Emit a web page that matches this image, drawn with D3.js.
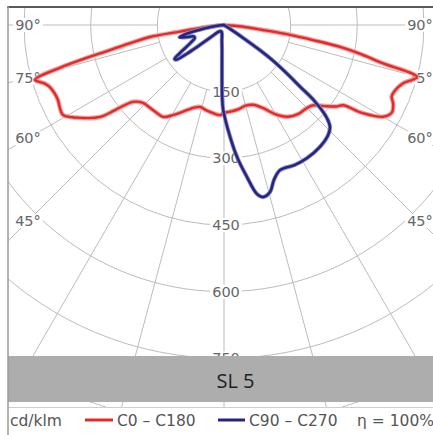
<!DOCTYPE html>
<html><head><meta charset="utf-8">
<script src="https://cdn.jsdelivr.net/npm/d3@7"></script>
<style>html,body{margin:0;padding:0;background:#fff}svg{display:block}</style>
</head><body><svg id="c" width="433" height="435"></svg>
<script>
// ---- data ----
const ringValues = [150, 300, 450, 600, 750, 900, 1050];
const ringLabels = ["150", "300", "450", "600", "750"];
const radialAngles = [-90, -75, -60, -45, -30, -15, 0, 15, 30, 45, 60, 75, 90];
const angleLabelValues = [90, 75, 60, 45];
const angleLabelTexts = ["90°", "75°", "60°", "45°"];

// C0 - C180 plane (red): gamma in degrees, intensity in cd/klm
const c0Angles   = [0, 5, 10, 15, 20, 25, 30, 35, 40, 45, 48, 51, 54, 56, 57.5, 60, 62.5, 65, 67, 69, 72, 74.9, 76.5, 78, 79.3, 80.4, 81.5, 82.7, 85, 90];
const c0Values   = [198, 195, 192, 188, 191, 206, 232, 252, 261, 264, 270, 290, 312, 323, 368, 413, 426, 420, 410, 412, 424, 450, 365, 315, 266, 203, 150, 88, 40, 0];
const c180Angles = [0, 2.5, 7, 12, 16, 20, 23.5, 29.5, 33.5, 37.3, 42, 46.1, 49.8, 52, 53.4, 56.6, 60.8, 63, 65.7, 68, 70.4, 72, 73.8, 75.7, 77.6, 79, 80.8, 81.5, 83, 90];
const c180Values = [198, 203, 200, 196, 192, 198, 209, 233, 248, 249, 250, 253, 268, 311, 347, 380, 415, 414, 410, 411, 416, 425, 443, 364, 263, 215, 169, 100, 54, 0];

// C90 - C270 plane (blue)
const c90Angles  = [0, 2.2, 5.6, 8.6, 11, 12.8, 15.4, 17.9, 21.1, 26.9, 32, 38.2, 43.4, 46.1, 47.9, 50, 51, 52.5, 54, 55, 56, 57, 58];
const c90Values  = [200, 236, 298, 346, 387, 397, 390, 366, 350, 353, 353, 349, 341, 331, 312, 265, 220, 175, 135, 100, 55, 20, 0];
const c270Angles = [0, 0.7, 1.5, 2.5, 4.6, 8, 12, 20, 30, 40, 46, 50, 52, 54, 55.5, 57.5, 59.5, 62, 66, 69, 72, 74.5, 77, 80, 84, 90];
const c270Values = [200, 188, 160, 105, 56, 35, 22, 16, 16, 20, 35, 65, 100, 133, 135, 118, 100, 85, 72, 72, 88, 104, 85, 45, 12, 0];

const titleText = "SL 5";
const unitLabel = "cd/klm";
const seriesLabels = ["C0 – C180", "C90 – C270"];
const seriesColors = ["#e22b2b", "#25257f"];
const efficiencyLabel = "η = 100%";

// ---- layout ----
const W = 433, H = 435;
const cx = 224, cy = 25;
const frame = {x: 8, y: 7, w: 425, h: 400};
const r = d3.scaleLinear().domain([0, 750]).range([0, 333.3]);
const rad = d => d * Math.PI / 180;

const svg = d3.select("#c");
svg.append("rect").attr("width", W).attr("height", H).attr("fill", "#fff");

const defs = svg.append("defs");
defs.append("clipPath").attr("id", "plotclip")
  .append("rect").attr("x", frame.x).attr("y", frame.y).attr("width", frame.w).attr("height", frame.h);

const plot = svg.append("g").attr("clip-path", "url(#plotclip)");
const grid = plot.append("g").attr("stroke", "#bcbcbc").attr("stroke-width", 1).attr("fill", "none");

grid.selectAll("circle").data(ringValues).join("circle")
  .attr("cx", cx).attr("cy", cy).attr("r", d => r(d));

grid.selectAll("line").data(radialAngles).join("line")
  .attr("x1", d => cx + r(150) * Math.sin(rad(d)))
  .attr("y1", d => cy + r(150) * Math.cos(rad(d)))
  .attr("x2", d => cx + r(2000) * Math.sin(rad(d)))
  .attr("y2", d => cy + r(2000) * Math.cos(rad(d)));

// ring labels
const labelFont = "DejaVu Sans, Verdana, sans-serif";
const labels = plot.append("g");
function addLabel(g, x, y, txt) {
  const gg = g.append("g");
  const t = gg.append("text").attr("x", x).attr("y", y)
    .attr("text-anchor", "middle").attr("dominant-baseline", "central")
    .attr("font-family", labelFont).attr("font-size", 14.5).attr("fill", "#666").text(txt);
  const bb = t.node().getBBox();
  gg.insert("rect", "text").attr("x", bb.x - 2).attr("y", bb.y + 1).attr("width", bb.width + 4).attr("height", bb.height - 2).attr("fill", "#fff");
}
ringLabels.forEach((t, i) => addLabel(labels, cx + 2, cy + r(ringValues[i]), t));

// angle labels along the radial lines, near the frame edges
const edgeDist = 196;
angleLabelValues.forEach((a, i) => {
  const dy = a === 90 ? 0 : edgeDist / Math.tan(rad(a));
  addLabel(labels, cx - edgeDist, cy + dy, angleLabelTexts[i]);
  addLabel(labels, cx + edgeDist, cy + dy, angleLabelTexts[i]);
});

// curves
const radial = d3.lineRadial()
  .angle(d => Math.PI - rad(d[0]))
  .radius(d => r(d[1]))
  .curve(d3.curveCatmullRom.alpha(0.5));

function plane(leftA, leftV, rightA, rightV) {
  const pts = [];
  for (let i = leftA.length - 1; i >= 0; i--) pts.push([-leftA[i], leftV[i]]);
  for (let i = 1; i < rightA.length; i++) pts.push([rightA[i], rightV[i]]);
  return pts;
}
const redPts = plane(c180Angles, c180Values, c0Angles, c0Values);
const bluePts = plane(c270Angles, c270Values, c90Angles, c90Values);

const curves = plot.append("g").attr("transform", `translate(${cx},${cy})`).attr("fill", "none")
  .attr("stroke-linejoin", "round").attr("stroke-linecap", "round");
curves.append("path").attr("d", radial(redPts)).attr("stroke", "#f2a3a3").attr("stroke-width", 4.6);
curves.append("path").attr("d", radial(redPts)).attr("stroke", seriesColors[0]).attr("stroke-width", 2.4);
curves.append("path").attr("d", radial(bluePts)).attr("stroke", "#8e8ec4").attr("stroke-width", 4.2);
curves.append("path").attr("d", radial(bluePts)).attr("stroke", seriesColors[1]).attr("stroke-width", 2.5);

// title band
svg.append("rect").attr("x", 8).attr("y", 356).attr("width", W - 8).attr("height", 46).attr("fill", "#adadad");
svg.append("text").attr("x", 235.5).attr("y", 388).attr("text-anchor", "middle")
  .attr("font-family", "Open Sans, sans-serif").attr("font-size", 20).attr("fill", "#1e1e1e").text(titleText);

// frame
svg.append("line").attr("x1", 8).attr("x2", W).attr("y1", 407.5).attr("y2", 407.5).attr("stroke", "#cfcfcf").attr("stroke-width", 1);
svg.append("line").attr("x1", 7).attr("x2", W).attr("y1", 7).attr("y2", 7).attr("stroke", "#5a5a5a").attr("stroke-width", 2);
svg.append("line").attr("x1", 8).attr("x2", 8).attr("y1", 6).attr("y2", H).attr("stroke", "#9a9a9a").attr("stroke-width", 1.5);

// legend
const lg = svg.append("g").attr("font-family", labelFont).attr("font-size", 15.5).attr("fill", "#555");
const ly = 426;
lg.append("text").attr("x", 10).attr("y", ly).text(unitLabel);
const legendX = [[85, 113, 117], [218, 245, 249]];
seriesLabels.forEach((s, i) => {
  lg.append("line").attr("x1", legendX[i][0]).attr("x2", legendX[i][1]).attr("y1", 420).attr("y2", 420)
    .attr("stroke", seriesColors[i]).attr("stroke-width", 3);
  lg.append("text").attr("x", legendX[i][2]).attr("y", ly).text(s);
});
lg.append("text").attr("x", 357).attr("y", ly).text(efficiencyLabel);
</script>
</body></html>
